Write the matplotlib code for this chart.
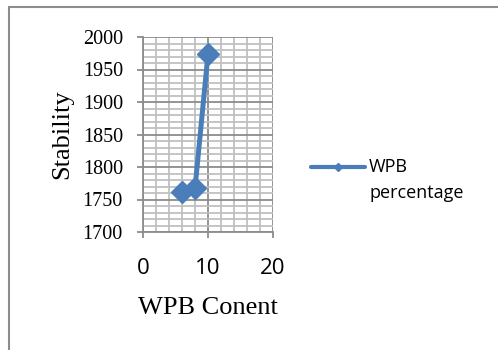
import matplotlib.pyplot as plt
from matplotlib.ticker import MultipleLocator
from matplotlib.patches import Rectangle
from matplotlib.lines import Line2D

# === DATA ===
wpb_content = [6, 8, 10]
stability = [1761, 1767, 1974]
series_name = ["WPB", "percentage"]

LINE_COLOR = "#4A7EBB"
MAJOR_GRID = "#8C8C8C"
MINOR_GRID = "#C0C0C0"
W, H = 498, 350

fig = plt.figure(figsize=(W / 100, H / 100), dpi=100)

# outer chart frame (only top and left edges visible)
fig.patches.append(Rectangle((9 / W, -0.1), 1.2, (H - 7) / H + 0.1,
                             transform=fig.transFigure, fill=False,
                             edgecolor="#8C8C8C", linewidth=1.5))

ax = fig.add_axes([143 / W, (H - 232) / H, 130 / W, 195 / H])

ax.plot(wpb_content, stability, color=LINE_COLOR, linewidth=3.6,
        marker="D", markersize=11, solid_capstyle="round", zorder=3)

ax.set_xlim(0, 20)
ax.set_ylim(1700, 2000)
ax.xaxis.set_major_locator(MultipleLocator(10))
ax.xaxis.set_minor_locator(MultipleLocator(2))
ax.yaxis.set_major_locator(MultipleLocator(50))
ax.yaxis.set_minor_locator(MultipleLocator(10))

ax.grid(which="minor", color=MINOR_GRID, linewidth=1.3)
ax.grid(which="major", color=MAJOR_GRID, linewidth=1.3)
ax.set_axisbelow(True)

for s in ["top", "right"]:
    ax.spines[s].set_visible(False)
for s in ["left", "bottom"]:
    ax.spines[s].set_color(MAJOR_GRID)
    ax.spines[s].set_linewidth(1.3)

ax.tick_params(which="major", length=4.5, width=1.3, color=MAJOR_GRID)
ax.tick_params(which="minor", length=0)
ax.tick_params(axis="x", pad=14)
ax.tick_params(axis="y", pad=10)

for lab in ax.get_yticklabels():
    lab.set_fontfamily("Liberation Serif")
    lab.set_fontsize(14.5)
for lab in ax.get_xticklabels():
    lab.set_fontfamily("Open Sans")
    lab.set_fontsize(16)

ax.set_xlabel("WPB Conent", fontfamily="Liberation Serif", fontsize=19, labelpad=13)
ax.set_ylabel("Stability", fontfamily="Liberation Serif", fontsize=19, labelpad=7)

# legend drawn by hand: handle aligned with the first text line
y_leg = (H - 167) / H
fig.add_artist(Line2D([311 / W, 338 / W, 365 / W], [y_leg, y_leg, y_leg],
                      transform=fig.transFigure, color=LINE_COLOR, linewidth=3,
                      solid_capstyle="round", marker="D", markersize=4.5,
                      markevery=[1]))
fig.text(369 / W, y_leg, series_name[0], family="Open Sans", fontsize=13,
         va="center", ha="left")
fig.text(369 / W, (H - 193) / H, series_name[1], family="Open Sans",
         fontsize=13, va="center", ha="left")

fig.savefig("out.png", dpi=100)
